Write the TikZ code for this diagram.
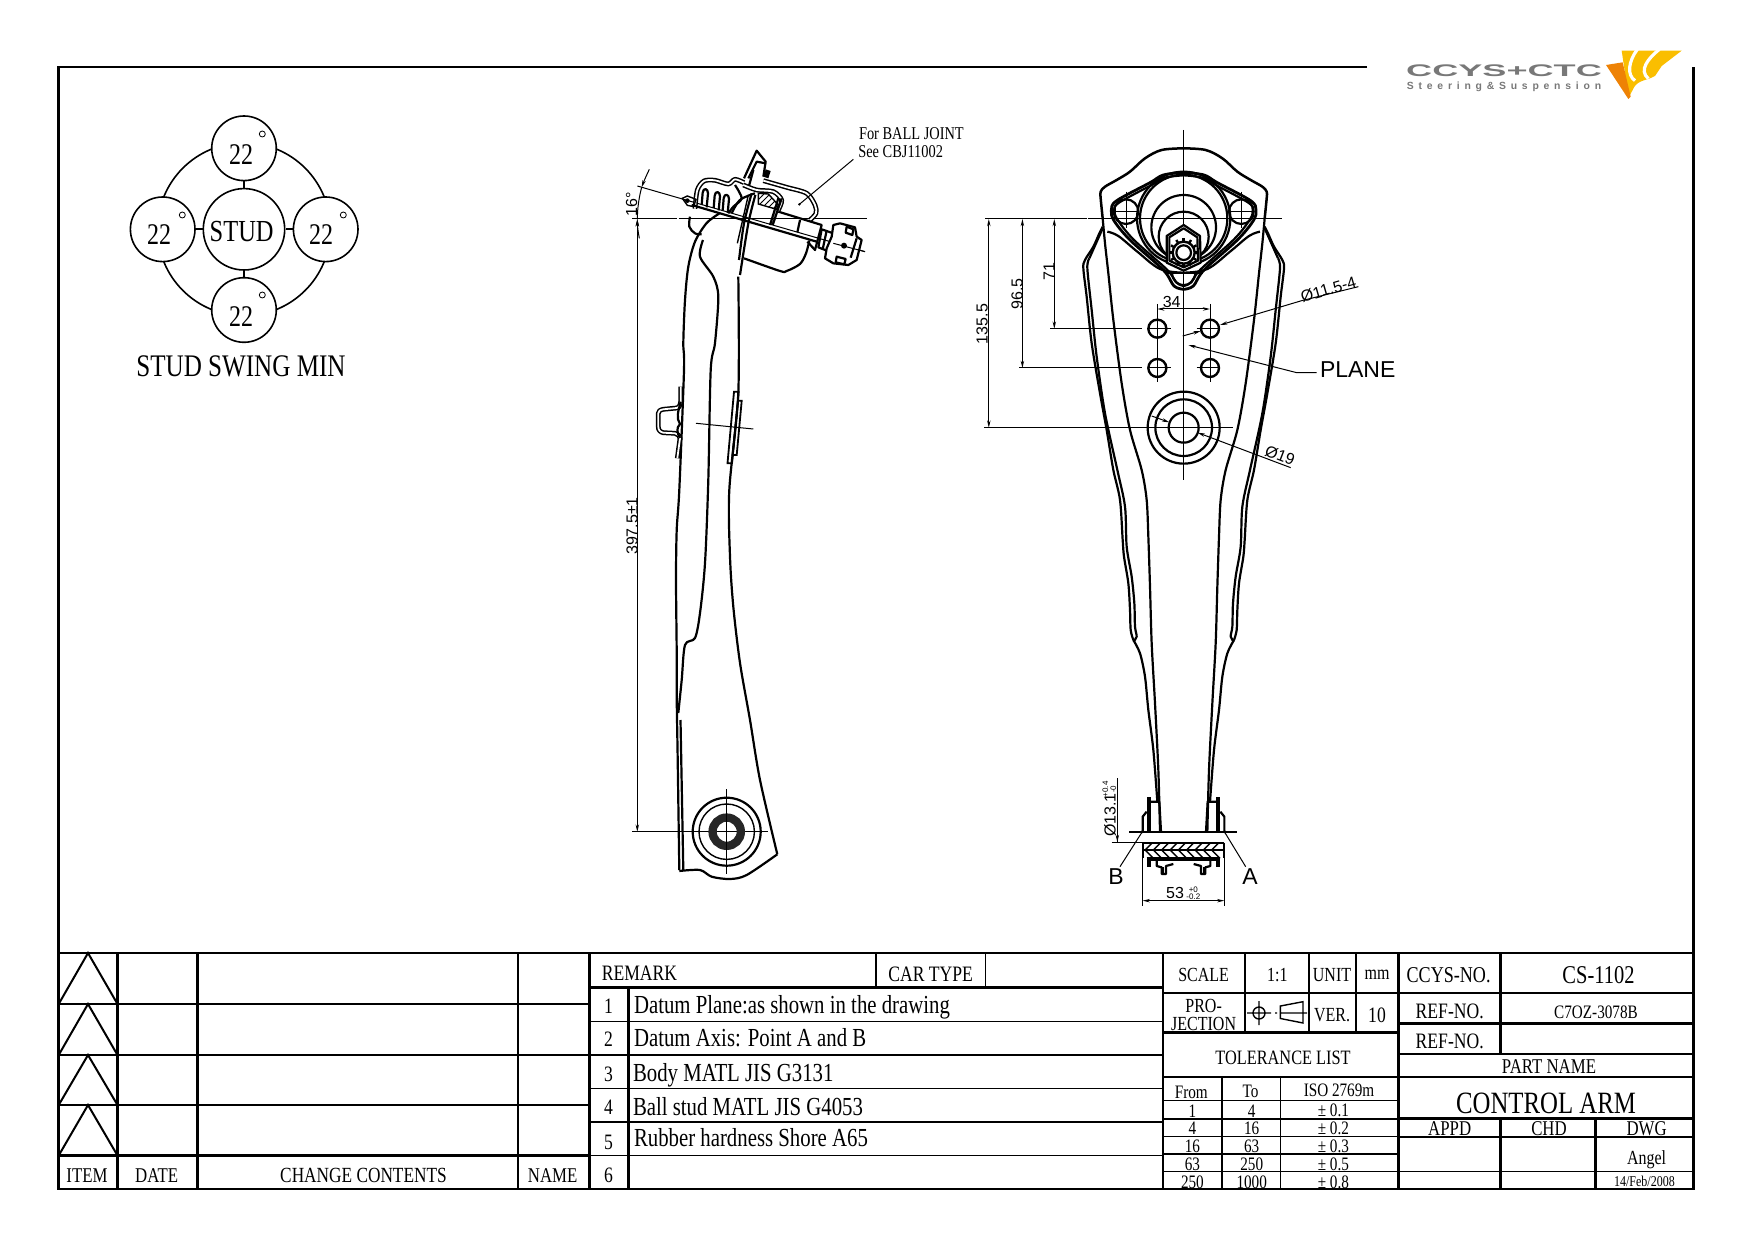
\documentclass[tikz,border=0pt]{standalone}
\usepackage{fontspec}
\setmainfont{Liberation Serif}[FakeStretch=0.8]
\newfontfamily\dimf{Liberation Sans}
\newfontfamily\logof{Liberation Sans}[LetterSpace=46]
\usetikzlibrary{arrows.meta,patterns}
\newcount\nc
\newcommand\fs[1]{\fontsize{#1}{#1}\selectfont}
\newcommand\tx[3][]{\global\advance\nc by 1 \node[txt,#1] (t\the\nc) at (#2) {#3};}
\newcommand\dx[3][]{\global\advance\nc by 1 \node[txt,font=\dimf\fs{8},#1] (t\the\nc) at (#2) {#3};}
\newcommand\fronthalf{%
  \draw[obj,line width=1.4pt] plot[smooth,tension=.55] coordinates {(401,127)(340,135)(300,158)(200,212)(184,240)(192,272)(240,330)(340,420)(372,468)(401,478)};
  \draw[obj] plot[smooth,tension=.55] coordinates {(401,136)(345,143)(303,166)(207,218)(194,240)(202,268)(250,328)(350,418)(380,458)(401,468)};
  \draw[obj] plot[smooth,tension=.6] coordinates {(172,305)(205,318)(262,365)(330,417)(400,428)};
  \draw[obj] (228,245) circle[radius=37];
  \draw[dim] (228,185) -- (228,295) (195,245) -- (262,245);
  \draw[obj,line width=1.25pt] plot[smooth,tension=.55] coordinates {(401,55)(335,60)(285,85)(240,125)(200,150)(165,170)(152,185)(152,205)(158,265)};
  \draw[obj] plot[smooth,tension=.5] coordinates {(158,290)(148,310)(130,350)(105,390)(100,415)(110,500)(125,640)(150,790)(170,900)(190,1020)(210,1110)(218,1230)(222,1280)(235,1360)(240,1440)(242,1500)(250,1530)};
  \draw[obj] plot[smooth,tension=.5] coordinates {(250,1530)(270,1570)(285,1640)(295,1740)(310,1860)(322,2015)};
  \draw[obj] plot[smooth,tension=.5] coordinates {(118,385)(112,415)(125,540)(140,680)(165,850)(202,1020)(225,1130)(230,1250)(245,1340)(253,1420)(255,1490)(260,1520)(250,1535)};
  \draw[obj] (118,385) -- (158,295);
  \draw[obj] plot[smooth,tension=.5] coordinates {(158,265)(165,340)(175,430)(190,570)(215,760)(240,900)(275,1020)(290,1110)(295,1220)(300,1370)(305,1540)(315,1720)(325,1920)(330,2105)};
}
\newcommand\bushhalf{%
  \fill (200,112) rectangle (212,215);
  \draw[obj] (188,215) -- (188,170) -- (200,155);
  \draw[obj] (212,125) -- (238,125) -- (243,215);
  \fill (187,215) circle[radius=5];
  \draw[obj] (190,248) -- (190,295);
  \fill (200,295) rectangle (212,320);
  \draw[obj] (230,303) -- (230,318) -- (245,322) -- (245,342) -- (258,342) -- (258,318) -- (280,312);
  \fill (245,322) rectangle (252,342);
}
\tikzset{
  txt/.style={inner sep=0pt,outer sep=0pt,align=center},
  tb/.style={line width=1.25pt},
  tn/.style={line width=0.75pt},
  obj/.style={line width=1.1pt,line join=round},
  dim/.style={line width=0.5pt},
  dbl/.style={line width=0.75pt,double=white,double distance=0.9pt,line join=round},
  swing/.style={circle,draw,fill=white,line width=0.8pt,minimum size=32.3pt,inner sep=0pt},
  >={Stealth[length=3.6pt,width=1.7pt]}
}
\definecolor{logogray}{RGB}{120,120,120}
\definecolor{logoor}{RGB}{238,130,5}
\definecolor{logoye}{RGB}{250,190,0}
\begin{document}
\begin{tikzpicture}[x=0.5pt,y=-0.5pt]
\useasboundingbox (0,0) rectangle (1754,1240);
% ---- frame
\draw[tb] (1367,67) -- (58.7,67) -- (58.7,1189) -- (1693.6,1189) -- (1693.6,67);
% ---- left revision table
\draw[tb] (58.7,953) -- (1693.6,953);
\draw[tb] (117.5,953) -- (117.5,1189) (197.4,953) -- (197.4,1189) (518,953) -- (518,1189) (589.5,953) -- (589.5,1189);
\draw[tb] (58.7,1004) -- (589.5,1004) (58.7,1055) -- (589.5,1055) (58.7,1105) -- (589.5,1105) (58.7,1155.5) -- (589.5,1155.5);
\foreach \a/\b in {953/1004,1004/1055,1055/1105,1105/1155.5}
  \draw[line width=1pt] (58.7,\b) -- (88,\a) -- (117.5,\b);
\tx[font=\fs{10.5}]{87,1175.6}{ITEM}
\tx[font=\fs{10.5}]{156.6,1175.6}{DATE}
\tx[font=\fs{10.8}]{363.5,1175.6}{CHANGE CONTENTS}
\tx[font=\fs{10.5}]{552.6,1175.6}{NAME}
% ---- remarks
\draw[tn] (589.5,1021.3) -- (1163,1021.3) (589.5,1054.8) -- (1163,1054.8) (589.5,1088.4) -- (1163,1088.4) (589.5,1122) -- (1163,1122) (589.5,1155.5) -- (1163,1155.5);
\draw[tb] (589.5,987.7) -- (1163,987.7);
\draw[tb] (628.6,987.7) -- (628.6,1189) (876,953) -- (876,987.7);
\draw[tn] (985.5,953) -- (985.5,987.7);
\tx[font=\fs{11},anchor=west]{601.8,973}{REMARK}
\tx[font=\fs{11}]{930.7,974}{CAR TYPE}
\foreach \n/\y in {1/1006,2/1039,3/1074,4/1107,5/1142,6/1175.6}
  {\tx[font=\fs{11}]{608.5,\y}{\n}}
\tx[font=\fs{13},anchor=west]{634,1007}{Datum Plane:as shown in the drawing}
\tx[font=\fs{13},anchor=west]{634,1038}{Datum Axis: Point A and B}
\tx[font=\fs{13},anchor=west]{633,1075}{Body MATL JIS G3131}
\tx[font=\fs{13},anchor=west]{633,1106.5}{Ball stud MATL JIS G4053}
\tx[font=\fs{13},anchor=west]{634,1138}{Rubber hardness Shore A65}
% ---- right table
\draw[tb] (1163,953) -- (1163,1189) (1398.3,953) -- (1398.3,1189);
\draw[tb] (1163,993) -- (1693.6,993) (1163,1032.3) -- (1398.3,1032.3) (1163,1077) -- (1693.6,1077) (1398.3,1023.5) -- (1693.6,1023.5) (1398.3,1054) -- (1693.6,1054) (1398.3,1118.5) -- (1693.6,1118.5);
\draw[tb] (1245,953) -- (1245,1032.3) (1308.8,953) -- (1308.8,1032.3) (1355.8,953) -- (1355.8,1032.3) (1500.5,953) -- (1500.5,1054) (1500.5,1118.5) -- (1500.5,1189) (1595.5,1118.5) -- (1595.5,1189);
\draw[tn] (1398.3,1137) -- (1693.6,1137) (1398.3,1171.7) -- (1693.6,1171.7);
\draw[tn] (1163,1100.7) -- (1398.3,1100.7) (1163,1119) -- (1398.3,1119) (1163,1136.7) -- (1398.3,1136.7) (1163,1154) -- (1398.3,1154) (1163,1171.7) -- (1398.3,1171.7);
\draw[tn] (1222,1077) -- (1222,1189) (1280.7,1077) -- (1280.7,1189);
\tx[font=\fs{10}]{1203.6,975}{SCALE}
\tx[font=\fs{10}]{1277.4,975}{1:1}
\tx[font=\fs{10}]{1332,975}{UNIT}
\tx[font=\fs{10}]{1377,975}{mm}
\tx[font=\fs{11.3}]{1448.6,975}{CCYS-NO.}
\tx[font=\fs{12.8}]{1598.5,975}{CS-1102}
\tx[font=\fs{10}]{1203.6,1006}{PRO-}
\tx[font=\fs{10}]{1203.6,1023.5}{JECTION}
\tx[font=\fs{10}]{1332,1015.5}{VER.}
\tx[font=\fs{11}]{1377,1015.5}{10}
\tx[font=\fs{11}]{1449.7,1011}{REF-NO.}
\tx[font=\fs{9.5}]{1596,1012}{C7OZ-3078B}
\tx[font=\fs{11}]{1449.7,1041}{REF-NO.}
\tx[font=\fs{10.2}]{1283,1058}{TOLERANCE LIST}
\tx[font=\fs{10.5}]{1549,1066.5}{PART NAME}
\tx[font=\fs{15.5}]{1546,1103.5}{CONTROL ARM}
\tx[font=\fs{10.5}]{1449.7,1129}{APPD}
\tx[font=\fs{10.5}]{1549,1129}{CHD}
\tx[font=\fs{10.5}]{1646.6,1129}{DWG}
\tx[font=\fs{10}]{1646.6,1160}{Angel}
\tx[font=\fs{7.5}]{1644.4,1181}{14/Feb/2008}
\tx[font=\fs{9.5}]{1191.3,1092.5}{From}
\tx[font=\fs{9.5}]{1250.6,1091.5}{To}
\tx[font=\fs{9.5}]{1339,1090}{ISO 2769m}
\foreach \y/\a/\b/\c in {1110.8/1/4/0.1,1128.7/4/16/0.2,1146.6/16/63/0.3,1164.5/63/250/0.5,1182.4/250/1000/0.8}
  {\tx[font=\fs{9.5}]{1192.4,\y}{\a}\tx[font=\fs{9.5}]{1251.7,\y}{\b}\tx[font=\fs{9.5}]{1333.4,\y}{± \c}}
% projection symbol
\draw[line width=0.7pt] (1259,1013) circle[radius=6] (1247,1013) -- (1271,1013) (1259,1001) -- (1259,1025);
\draw[line width=0.7pt] (1280.4,1006) -- (1303,1001.7) -- (1303,1023) -- (1280.4,1018.5) -- cycle (1275,1013) -- (1277,1013) (1280.4,1013) -- (1307,1013);
% ---- logo
\begin{scope}[shift={(1380,30)},scale=0.33333]
  \fill[logoye] (725,62) -- (905,62) -- (845,108) -- (825,138) .. controls (800,152) and (775,150) .. (762,172) -- (745,205) -- (735,130) -- cycle;
  \draw[white,line width=1.6pt] (772,58) .. controls (745,95) and (740,135) .. (765,152);
  \draw[white,line width=1.6pt] (838,58) .. controls (805,85) and (775,120) .. (805,146);
  \fill[logoor] (678,105) -- (728,97) -- (752,200) -- (745,207) -- cycle;
  \node[txt,text=logogray,font=\dimf\bfseries\fs{8.4},xscale=2.15,yscale=1] (logoa) at (372,122) {CCYS+CTC};
  \node[txt,text=logogray,font=\logof\bfseries\fs{5.2}] (logob) at (372,170) {Steering\&Suspension};
\end{scope}
% ---- stud swing
\draw[line width=0.8pt] (244,229.3) circle[radius=86.5];
\node[swing] (ct) at (244,148.3) {};
\node[swing] (cl) at (162.7,229.3) {};
\node[swing] (cr) at (325.7,229.3) {};
\node[swing] (cb) at (244,310) {};
\node[swing,minimum size=40.7pt] (cs) at (244,229.3) {};
\draw[line width=0.8pt] (cs) -- (ct) (cs) -- (cl) (cs) -- (cr) (cs) -- (cb);
\tx[font=\fs{15}]{241,155}{22}
\tx[font=\fs{15}]{159,235}{22}
\tx[font=\fs{15}]{321,235}{22}
\tx[font=\fs{15}]{241,317}{22}
\tx[font=\fs{15.3}]{241.7,231.7}{STUD}
\tx[font=\fs{15.7}]{241,366.7}{STUD SWING MIN}
\foreach \p in {(262.3,134),(182.3,215),(343.3,215),(262.3,295)}
  \draw[line width=0.4pt] \p circle[radius=3];
% ---- side view: dimensions and axes
\draw[dim] (632,219) -- (677,219) (678.5,219) -- (866.7,219);
\draw[dim,<->] (637.3,219) -- (637.3,831.7);
\draw[dim] (632,831.7) -- (768,831.7);
\dx[rotate=90]{632,526}{397.5±1}
% ---- side view: arm
\draw[obj] plot[smooth,tension=.5] coordinates {(720,213)(706.7,223)(695,241.7)(688.3,266.7)(685,300)(683.3,343)(684,370)(679.3,490)(676.7,530)(676,580)(676.7,653)(676.7,697)(677.7,760)(679.3,870)};
\draw[obj] (683.3,870) -- (680.5,720);
\draw[obj] plot[smooth,tension=.5] coordinates {(703,240)(700,256.7)(713.3,276.7)(718.3,296.7)(715,343)(710.7,370)(708.3,480)(705,563)(700,613)(695,638)(685,645)(681.7,680)(678.3,713)};
\draw[obj] plot[smooth,tension=.5] coordinates {(738.3,276.7)(738.3,393)(729.3,490)(730,556.7)(733.3,606.7)(740,663)(750,720)(760,780)(777.3,854.3)};
\draw[obj] plot[smooth,tension=.5] coordinates {(777.3,854.3)(746.7,875)(730,879)(711.7,876.7)(700,870)(679.3,871)};
% bracket
\draw[dbl] (680.7,386.7) -- (680.7,401.7) .. controls (680,407) and (678,408) .. (676.7,408) -- (663.3,409.3) .. controls (660,410) and (658.3,411) .. (658.3,413.3) -- (658.3,426.7) .. controls (658.3,430) and (660,432) .. (663.3,432.7) -- (675,433.3) .. controls (678,434) and (680,436) .. (680,438.3) -- (677.3,458.3);
\draw[obj] (680.7,401.7) .. controls (678,412) and (676,418) .. (680,424) .. controls (676,428) and (677,433) .. (680,438);
\draw[line width=0.9pt] (738.7,391.7) -- (734,391.7) -- (727.5,463.3) -- (732,463.3) -- cycle;
\draw[line width=0.9pt] (741.7,400.7) -- (738,400.7) -- (732.5,455) -- (736.7,455) -- cycle;
\draw[dim] (696,423.3) -- (753.3,429);
% bush
\draw[obj] (726.7,831.7) circle[radius=34];
\draw[line width=0.7pt] (726.7,831.7) circle[radius=27.7];
\draw[line width=4.15pt,black!85] (726.7,831.7) circle[radius=14.15];
\draw[dim] (726.7,789.3) -- (726.7,874);
% ---- ball joint, side view
\begin{scope}[shift={(600,110)},scale=0.33333]
  \draw[dim] (112,228) -- (795,425);
  \draw[dim,->] (148,178) .. controls (140,195) and (133,210) .. (125,232);
  \draw[dim,->] (118,385) .. controls (114,365) and (112,345) .. (112,328);
  \dx[rotate=90]{95,282}{16°}
  \draw[dim] (125,232) .. controls (117,262) and (112,295) .. (112,328);
  \draw[dbl] plot[smooth,tension=.5] coordinates {(285,296)(292,240)(312,213)(345,211)(385,222)(405,208)(432,218)};
  \draw[dbl] plot[smooth,tension=.5] coordinates {(490,212)(560,232)(620,250)(645,285)(648,310)(630,330)};
  \draw[obj] (432,205) -- (470,122) -- (497,155) -- (490,200);
  \draw[obj] (445,205) -- (470,155) -- (497,160);
  \fill (497,178) -- (512,183) -- (505,205) -- (490,200) -- cycle;
  \draw[obj] (460,180) -- (445,235);
  \draw[dbl] plot[smooth,tension=.5] coordinates {(430,225)(470,240)(520,245)(545,270)(535,300)};
  \draw[obj] plot[smooth,tension=.5] coordinates {(405,225)(425,265)(400,290)(385,310)};
  \draw[obj] plot[smooth,tension=.6] coordinates {(395,310)(420,270)(465,250)};
  \draw[line width=0.7pt,pattern=north east lines] (475,250) -- (505,252) -- (535,285) -- (530,298) -- (475,282) -- cycle;
  \draw[obj] (545,265) -- (518,345) (535,265) -- (510,345);
  \draw[obj] plot[smooth,tension=.5] coordinates {(466,255)(445,340)(420,495)};
  \draw[obj] plot[smooth,tension=.5] coordinates {(455,250)(432,340)(417,450)};
  \draw[line width=0.7pt] (445,255) -- (412,400);
  \draw[obj] (275,285) -- (650,395);
  \draw[obj] (535,305) -- (665,345) -- (645,420) -- (622,395);
  \draw[obj] (600,330) -- (592,367);
  \draw[obj] plot[smooth,tension=.5] coordinates {(432,445)(540,483)(560,483)(600,462)(618,430)(628,392)};
  \draw[obj] plot[smooth,tension=.6] coordinates {(270,320)(268,350)(285,370)(305,373)};
  \foreach \d/\e in {0/0,36/9,63/17}
    \draw[obj] (305+\d,285+\e) -- (308+\d,248+\e) .. controls (310+\d,232+\e) and (324+\d,235+\e) .. (324+\d,250+\e) -- (320+\d,292+\e);
  \draw[line width=0.7pt] (247,265) -- (262,258) -- (288,268) -- (281,290) -- (262,286) -- cycle;
  \fill (262,272) circle[radius=7];
  \draw[obj] (665,358) -- (700,370) -- (688,425) -- (655,412) -- cycle;
  \draw[obj] (680,362) -- (668,418);
  \draw[obj,fill=white] (700,345) -- (720,340) -- (765,352) -- (770,380) -- (785,390) -- (770,450) -- (745,465) -- (700,460) -- (675,445) -- (680,415) -- (695,380) -- cycle;
  \draw[obj] (740,350) -- (760,358) -- (757,375) -- (737,368) -- cycle;
  \draw[obj] (710,440) -- (737,447) -- (733,463) -- (707,457) -- cycle;
  \draw[obj] (770,385) -- (752,443);
  \fill (732,407) circle[radius=9];
  \draw[dim] (700,400) -- (795,425);
  \fill (598,283) circle[radius=4];
  \draw[dim] (760,148) -- (598,283);
  \tx[font=\fs{9},anchor=west]{777,70}{For BALL JOINT}
  \tx[font=\fs{9},anchor=west]{775,125}{See CBJ11002}
\end{scope}
% ---- front view dimensions
\draw[dim] (985,219) -- (1086.5,219) (1087.5,219) -- (1281.7,219);
\draw[dim] (1019,368) -- (1141.7,368) (1050,328.7) -- (1141.7,328.7) (984.4,427.7) -- (1232.7,427.7);
\draw[dim,<->] (1054.3,219) -- (1054.3,328.7);
\draw[dim,<->] (1022.4,219) -- (1022.4,368);
\draw[dim,<->] (988.8,219) -- (988.8,427.7);
\dx[rotate=90]{1049,272}{71}
\dx[rotate=90]{1017,294}{96.5}
\dx[rotate=90]{982,324}{135.5}
% ---- front view
\begin{scope}[shift={(1050,130)},scale=0.33333]
  \fronthalf
  \begin{scope}[shift={(802,0)},xscale=-1]\fronthalf\end{scope}
  \draw[dim,line width=0.6pt] (401,0) -- (401,1050);
  \draw[obj] (401,265) circle[radius=140] (401,265) circle[radius=131];
  \draw[obj] (401,292) circle[radius=97];
  \draw[obj] (401,320) circle[radius=75];
  % nut
  \draw[obj,fill=white] (401,285) -- (450,318) -- (452,398) -- (401,422) -- (350,398) -- (350,318) -- cycle;
  \draw[obj] (401,295) -- (442,322) -- (444,392) -- (401,412) -- (358,392) -- (358,322) -- cycle;
  \foreach \a in {0,30,...,330}
    \draw[line width=1.2pt] ({401+30*cos(\a)},{368+30*sin(\a)}) -- ({401+44*cos(\a)},{368+44*sin(\a)});
  \draw[line width=1.2pt,fill=white] (401,368) circle[radius=33];
  \draw[obj] (401,368) circle[radius=22];
  \draw[obj] (366,428) .. controls (368,478) and (434,478) .. (436,428);
  \draw[obj] (345,428) -- (460,428);
  % small holes
  \foreach \x/\y in {322/596,480/596,322/714,480/714}
    \draw[line width=1.2pt] (\x,\y) circle[radius=27];
  \draw[dim] (322,522) -- (322,755) (480,522) -- (480,755);
  \draw[dim] (295,596) -- (362,596) (440,596) -- (510,596) (295,714) -- (362,714) (440,714) -- (510,714);
  % big hole
  \draw[obj] (401,893) circle[radius=108] (401,893) circle[radius=85] (401,893) circle[radius=45];
  % leaders
  \draw[dim,<->] (322,537) -- (480,537);
  \dx{365,517}{34}
  \draw[dim,->] (925,470) -- (755,512) -- (510,585);
  \draw[dim,->] (398,618) -- (452,603);
  \dx[rotate=16]{835,478}{Ø11.5-4}
  \draw[dim,->] (800,728) -- (740,728) -- (415,645);
  \node[txt,font=\dimf\fs{11.5},anchor=west] (planelbl) at (810,720) {PLANE};
  \draw[dim,->] (722,1013) -- (443,908);
  \draw[dim,->] (305,858) -- (358,877);
  \dx[rotate=-21]{690,976}{Ø19}
\end{scope}
% ---- bush, front view
\begin{scope}[shift={(1080,760)},scale=0.33333]
  \bushhalf
  \begin{scope}[shift={(621,0)},xscale=-1]\bushhalf\end{scope}
  \draw[obj] (148,215) -- (470,215);
  \draw[obj] (190,248) -- (432,248) (190,270) -- (432,270) (200,295) -- (421,295);
  \draw[line width=1.2pt] (200,300) -- (421,300);
  \foreach \x in {195,220,...,395}
    \draw[line width=0.7pt] (\x,270) -- (\x+22,248) (\x,270) -- (\x+25,295);
  \draw[dim] (112,55) -- (112,246);
  \draw[dim,->] (112,200) -- (112,246);
  \draw[dim] (95,246) -- (190,246);
  \dx[rotate=90]{90,165}{Ø13.1}
  \dx[rotate=90,font=\dimf\fs{4}]{76,88}{+0.4}
  \dx[rotate=90,font=\dimf\fs{4}]{100,88}{-0}
  \draw[dim] (188,270) -- (188,437) (433,270) -- (433,437);
  \draw[dim,<->] (188,422) -- (433,422);
  \dx{285,400}{53}
  \dx[font=\dimf\fs{4}]{340,388}{+0}
  \dx[font=\dimf\fs{4}]{340,410}{-0.2}
  \draw[dim] (187,215) -- (120,320) (433,215) -- (497,320);
  \node[txt,font=\dimf\fs{11.5}] (lblb) at (108,350) {B};
  \node[txt,font=\dimf\fs{11.5}] (lbla) at (510,350) {A};
\end{scope}
\end{tikzpicture}
\end{document}
